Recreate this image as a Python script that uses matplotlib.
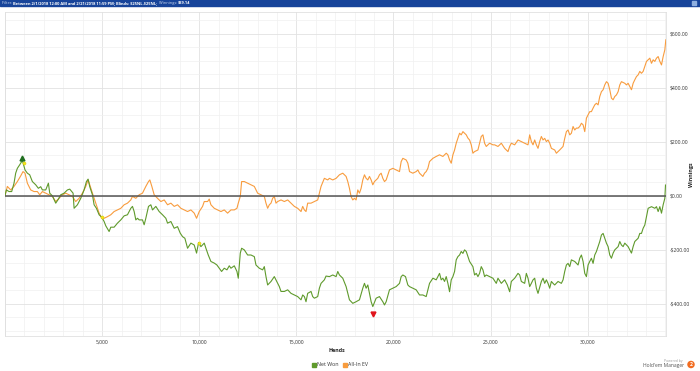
import matplotlib
matplotlib.use("Agg")
import matplotlib.pyplot as plt
import matplotlib.transforms as mtransforms
from matplotlib.lines import Line2D
from matplotlib.ticker import MultipleLocator, FuncFormatter

plt.rcParams['font.family'] = ['Open Sans', 'DejaVu Sans']

# %% Datos: (manos, ganancia $)
net_won = [
    (0, 0), (69, 21), (206, 15), (344, 15), (464, 46), (550, 83), (636, 101), (756, 114),
    (894, 130), (1031, 95), (1151, 83), (1272, 77), (1409, 52), (1581, 40), (1718, 27),
    (1838, 33), (1925, 21), (2096, 21), (2234, 46), (2303, 9), (2440, -1), (2612, -28),
    (2749, -13), (2869, 3), (3041, 9), (3213, 21), (3333, 24), (3436, 15), (3505, 9),
    (3557, -47), (3728, -34), (3900, -10), (4072, 21), (4192, 52), (4278, 61), (4364, 33),
    (4501, 3), (4587, -34), (4707, -47), (4845, -71), (4982, -80), (5103, -96), (5189, -112),
    (5360, -133), (5446, -117), (5618, -117), (5790, -102), (5962, -90), (6134, -75),
    (6305, -71), (6477, -47), (6563, -40), (6649, -59), (6735, -90), (6821, -84), (6907, -90),
    (7078, -90), (7164, -108), (7250, -84), (7388, -40), (7508, -34), (7594, -53), (7766, -40),
    (7937, -59), (8109, -71), (8281, -84), (8368, -102), (8540, -96), (8711, -121),
    (8883, -115), (9021, -139), (9141, -152), (9261, -158), (9399, -195), (9570, -176),
    (9742, -183), (9862, -213), (9966, -174), (10086, -189), (10258, -176), (10344, -195),
    (10464, -220), (10601, -244), (10773, -250), (10910, -257), (11031, -269), (11151, -281),
    (11288, -269), (11426, -275), (11546, -260), (11632, -269), (11804, -260), (11941, -281),
    (12010, -306), (12113, -213), (12182, -195), (12319, -201), (12491, -220), (12663, -220),
    (12835, -226), (12921, -257), (13092, -269), (13264, -275), (13350, -263), (13436, -300),
    (13522, -331), (13694, -318), (13865, -300), (14037, -325), (14123, -337), (14209, -355),
    (14381, -355), (14553, -349), (14724, -362), (14896, -368), (15068, -374), (15240, -386),
    (15326, -368), (15412, -374), (15497, -393), (15583, -362), (15755, -355), (15841, -374),
    (15927, -380), (16099, -374), (16185, -343), (16271, -325), (16442, -312), (16528, -298),
    (16702, -300), (16874, -294), (17046, -300), (17132, -281), (17217, -294), (17389, -306),
    (17561, -337), (17733, -386), (17905, -399), (18076, -393), (18248, -386), (18420, -343),
    (18506, -325), (18592, -343), (18678, -331), (18764, -362), (18850, -393), (18935, -411),
    (19107, -380), (19279, -374), (19451, -393), (19537, -405), (19623, -393), (19794, -349),
    (19966, -343), (20138, -337), (20310, -325), (20396, -300), (20482, -294), (20619, -300),
    (20739, -331), (20825, -337), (20997, -343), (21169, -349), (21341, -368), (21512, -368),
    (21684, -374), (21770, -349), (21856, -325), (22028, -306), (22200, -312), (22286, -300),
    (22371, -288), (22457, -312), (22543, -306), (22629, -318), (22715, -300), (22801, -325),
    (22887, -356), (22973, -312), (23059, -300), (23145, -281), (23230, -238), (23316, -226),
    (23402, -220), (23488, -207), (23574, -214), (23660, -201), (23746, -207), (23832, -226),
    (23918, -244), (24089, -263), (24175, -294), (24261, -288), (24347, -300), (24433, -288),
    (24519, -263), (24605, -275), (24691, -300), (24777, -294), (24948, -300), (25120, -306),
    (25292, -325), (25380, -306), (25552, -325), (25723, -312), (25861, -331), (25981, -356),
    (26067, -318), (26239, -306), (26411, -288), (26497, -294), (26582, -318), (26754, -325),
    (26840, -288), (26926, -306), (27012, -337), (27098, -325), (27184, -312), (27270, -306),
    (27356, -343), (27441, -362), (27613, -318), (27699, -306), (27785, -325), (27871, -312),
    (27957, -325), (28043, -343), (28129, -318), (28215, -325), (28300, -331), (28472, -318),
    (28644, -325), (28730, -312), (28816, -281), (28902, -257), (28988, -251), (29074, -263),
    (29159, -238), (29331, -244), (29503, -257), (29589, -232), (29675, -220), (29761, -244),
    (29847, -288), (29933, -300), (30018, -257), (30104, -244), (30190, -232), (30276, -251),
    (30362, -220), (30448, -207), (30534, -189), (30620, -170), (30706, -146), (30792, -140),
    (30877, -158), (30963, -176), (31049, -189), (31135, -220), (31221, -232), (31307, -213),
    (31393, -201), (31565, -189), (31651, -170), (31736, -183), (31822, -189), (31908, -176),
    (32080, -189), (32166, -201), (32252, -213), (32338, -189), (32424, -170), (32595, -158),
    (32681, -140), (32767, -140), (32853, -121), (32939, -109), (33025, -78), (33111, -47),
    (33283, -41), (33454, -47), (33540, -41), (33626, -59), (33712, -41), (33798, -65),
    (33884, -34), (33970, -10), (34004, 39.14),
]

all_in_ev = [
    (0, 0), (121, 34), (292, 21), (464, 34), (636, 52), (808, 73), (928, 89), (1031, 83),
    (1151, 46), (1323, 21), (1495, 15), (1667, 15), (1787, 3), (1925, 15), (2096, 9),
    (2268, 3), (2440, -3), (2612, -22), (2783, -10), (2955, 3), (3127, 9), (3299, 3),
    (3470, -3), (3642, -22), (3814, -10), (3986, 9), (4158, 34), (4278, 58), (4364, 40),
    (4501, 9), (4673, -28), (4845, -65), (4982, -84), (5103, -84), (5275, -78), (5446, -71),
    (5618, -59), (5790, -53), (5962, -47), (6134, -34), (6305, -28), (6477, -16), (6563, -3),
    (6735, -10), (6907, 3), (7078, 9), (7250, 34), (7388, 52), (7457, 58), (7560, 34),
    (7680, 3), (7852, -10), (8024, -22), (8196, -16), (8368, -34), (8540, -28), (8711, -40),
    (8883, -34), (9055, -47), (9227, -53), (9399, -59), (9570, -53), (9742, -65), (9862, -84),
    (10000, -59), (10172, -40), (10258, -22), (10430, -22), (10515, -13), (10601, -34),
    (10773, -47), (10945, -53), (11117, -59), (11288, -53), (11460, -65), (11632, -53),
    (11804, -53), (11941, -47), (12010, -28), (12113, -3), (12182, 52), (12319, 52),
    (12491, 46), (12663, 40), (12835, 34), (13006, 9), (13178, 3), (13350, -3), (13436, -28),
    (13522, -47), (13608, -34), (13694, -28), (13780, -10), (13865, -3), (13951, -28),
    (14037, -22), (14209, -16), (14381, -22), (14553, -16), (14724, -28), (14896, -40),
    (15068, -47), (15240, -59), (15326, -40), (15412, -53), (15497, -59), (15583, -28),
    (15755, -28), (15927, -22), (16099, -16), (16185, 9), (16271, 34), (16442, 64),
    (16614, 58), (16702, 64), (16874, 58), (17046, 64), (17217, 77), (17389, 83), (17561, 71),
    (17647, 52), (17733, 27), (17819, -4), (17905, -16), (17991, -10), (18076, -16),
    (18162, 21), (18248, 9), (18334, 27), (18420, 58), (18506, 77), (18592, 64), (18678, 58),
    (18764, 71), (18850, 58), (18935, 40), (19021, 52), (19193, 64), (19279, 77), (19365, 83),
    (19451, 64), (19537, 52), (19623, 58), (19709, 77), (19794, 95), (19966, 101),
    (20138, 95), (20310, 89), (20396, 126), (20482, 138), (20653, 132), (20739, 120),
    (20825, 89), (20997, 83), (21169, 89), (21255, 95), (21341, 83), (21512, 71), (21598, 83),
    (21684, 89), (21770, 101), (21856, 126), (22028, 138), (22200, 145), (22371, 151),
    (22543, 145), (22715, 157), (22801, 151), (22887, 132), (22973, 120), (23059, 151),
    (23145, 169), (23230, 194), (23316, 213), (23402, 231), (23488, 225), (23574, 237),
    (23746, 225), (23832, 213), (23918, 206), (24004, 188), (24089, 157), (24175, 163),
    (24347, 169), (24519, 219), (24605, 225), (24691, 194), (24777, 182), (24863, 188),
    (24948, 194), (25120, 188), (25208, 188), (25380, 182), (25552, 194), (25723, 175),
    (25895, 163), (25981, 182), (26067, 194), (26239, 188), (26411, 206), (26582, 200),
    (26754, 194), (26926, 188), (27012, 225), (27098, 200), (27184, 188), (27270, 206),
    (27356, 188), (27441, 175), (27527, 200), (27613, 219), (27699, 206), (27785, 212),
    (27871, 200), (27957, 206), (28043, 194), (28129, 175), (28300, 169), (28386, 157),
    (28558, 169), (28730, 182), (28816, 212), (28902, 237), (28988, 243), (29074, 225),
    (29159, 231), (29245, 256), (29331, 243), (29417, 250), (29503, 250), (29589, 256),
    (29675, 268), (29761, 262), (29847, 237), (29933, 287), (30018, 299), (30104, 311),
    (30190, 311), (30276, 324), (30362, 336), (30448, 342), (30534, 336), (30620, 367),
    (30706, 385), (30792, 392), (30877, 410), (30963, 422), (31049, 416), (31135, 392),
    (31221, 361), (31307, 355), (31393, 367), (31479, 373), (31565, 385), (31651, 410),
    (31736, 422), (31908, 416), (31994, 410), (32080, 416), (32166, 404), (32252, 392),
    (32338, 416), (32424, 429), (32510, 441), (32595, 447), (32681, 460), (32767, 453),
    (32853, 460), (32939, 478), (33025, 497), (33111, 503), (33197, 509), (33283, 490),
    (33369, 503), (33454, 497), (33540, 509), (33626, 515), (33712, 497), (33798, 484),
    (33884, 515), (33970, 540), (34021, 577),
]

# marcadores amarillos sobre Net Won
yellow_hands = [980, 4982, 9966]
yellow_vals = [120, -80, -174]

series_labels = ['Net Won', 'All-In EV']
series_colors = ['#5f9a2c', '#f89c3e']
filtro = [('Filter: ', 'normal', '#c9d6ee'),
          (r'Between 2/1/2018 12:00 AM and 2/21/2018 11:59 PM; Blinds: \$25NL-\$25NL; ', 'bold', 'white'),
          ('Winnings: ', 'normal', '#c9d6ee'),
          (r'\$39.14', 'bold', 'white')]

# %% Figura
W, H = 700, 371
fig = plt.figure(figsize=(W / 100, H / 100), dpi=100)
fig.patch.set_facecolor('white')

ax = fig.add_axes([5 / W, 1 - 336 / H, 661 / W, 324 / H])
nh, nv = zip(*net_won)
eh, ev = zip(*all_in_ev)
ax.plot(eh, ev, color=series_colors[1], lw=0.8, zorder=3)
ax.plot(nh, nv, color=series_colors[0], lw=0.8, zorder=4)
ax.axhline(0, color='#555555', lw=1.1, zorder=5)

ax.set_xlim(0, 34030)
ax.set_ylim(-520, 680)

ax.xaxis.set_major_locator(MultipleLocator(5000))
ax.xaxis.set_minor_locator(MultipleLocator(1000))
ax.yaxis.set_major_locator(MultipleLocator(200))
ax.yaxis.set_minor_locator(MultipleLocator(50))
ax.xaxis.set_major_formatter(FuncFormatter(lambda v, p: '' if v == 0 else f'{int(v):,}'))
ax.yaxis.set_major_formatter(FuncFormatter(
    lambda v, p: f'${v:,.2f}' if v >= 0 else f'-${-v:,.2f}'))
ax.yaxis.tick_right()
ax.tick_params(which='both', length=0, labelsize=3.6, colors='#333333', pad=3)
ax.grid(which='major', color='#e2e2e2', lw=0.6)
ax.grid(which='minor', color='#f0f0f0', lw=0.5)
for s in ax.spines.values():
    s.set_color('#e0e0e0')
    s.set_linewidth(0.6)

# max / min de Net Won
i_max = max(range(len(nv)), key=lambda i: nv[i])
i_min = min(range(len(nv)), key=lambda i: nv[i])
up = mtransforms.offset_copy(ax.transData, fig=fig, x=0, y=1.5, units='points')
down = mtransforms.offset_copy(ax.transData, fig=fig, x=0, y=-5, units='points')
ax.plot(nh[i_max], nv[i_max], marker='^', color='#1f6e1f', ms=3.5, transform=up, zorder=6)
ax.plot(nh[i_min], nv[i_min], marker='v', color='#e0141c', ms=3.5, transform=down, zorder=6)
ax.scatter(yellow_hands, yellow_vals, marker='o', s=5, color='#f5e61a',
           edgecolors='#d8c400', linewidths=0.3, zorder=7)

fig.text(337 / W, 1 - 350 / H, 'Hands', ha='center', va='center',
         fontsize=3.8, fontweight='bold', color='#222222')
fig.text(691 / W, 1 - 175 / H, 'Winnings', ha='center', va='center', rotation=90,
         fontsize=3.8, fontweight='bold', color='#222222')

handles = [Line2D([], [], marker='s', ls='', color=c, ms=2.5) for c in series_colors]
fig.legend(handles, series_labels, loc='center', bbox_to_anchor=(340 / W, 1 - 365 / H),
           ncol=2, frameon=False, fontsize=3.8, handletextpad=0.2, columnspacing=0.8,
           handlelength=0.8, labelcolor='#333333')

# barra de filtro
fig.patches.append(plt.Rectangle((0, 1 - 6 / H), 1, 6 / H, transform=fig.transFigure,
                                 color='#17449a', zorder=0))
fig.patches.append(plt.Rectangle((692 / W, 1 - 5 / H), 4 / W, 4 / H,
                                 transform=fig.transFigure, color='#8fb0e0', zorder=1))
renderer = fig.canvas.get_renderer()
x_px = 2
for txt, wt, col in filtro:
    t = fig.text(x_px / W, 1 - 3.2 / H, txt, va='center', ha='left',
                 fontsize=2.9, fontweight=wt, color=col)
    x_px += t.get_window_extent(renderer).width

# logo
fig.text(683 / W, 1 - 361 / H, 'Powered by', ha='right', va='center',
         fontsize=2.4, color='#999999')
fig.text(684 / W, 1 - 366 / H, "Hold'em Manager", ha='right', va='center',
         fontsize=3.6, color='#555555')
fig.text(691 / W, 1 - 364.5 / H, '2', ha='center', va='center', fontsize=3.6,
         fontweight='bold', color='white',
         bbox=dict(boxstyle='circle,pad=0.25', fc='#f26d21', ec='none'))

plt.savefig('out.png', dpi=100)
